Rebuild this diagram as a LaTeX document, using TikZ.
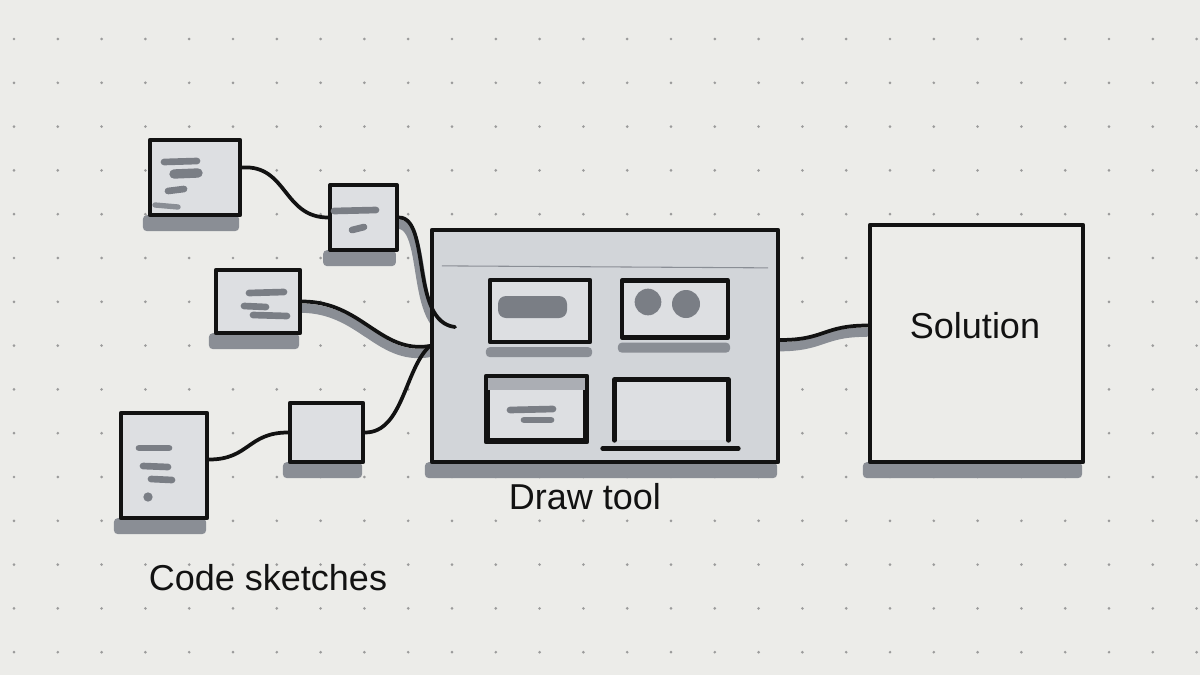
\documentclass[tikz,border=0pt]{standalone}
\usepackage{fontspec}
\setmainfont{Liberation Sans}
\usetikzlibrary{calc,backgrounds}

\definecolor{paper}{RGB}{236,236,233}
\definecolor{sheet}{RGB}{221,223,226}
\definecolor{toolgray}{RGB}{210,213,217}
\definecolor{marker}{RGB}{138,142,149}
\definecolor{blob}{RGB}{122,126,133}
\definecolor{ink}{RGB}{18,18,18}
\definecolor{dotgray}{RGB}{155,155,155}

\tikzset{every picture/.style={line width=0.75pt}}
\tikzset{
  pen/.style={draw=ink, line width=3.2pt, line cap=round, line join=round},
  sheetbox/.style={pen, fill=sheet, inner sep=0pt},
  wire/.style={draw=ink, line width=2.8pt, line cap=round},
  wireshade/.style={draw=marker, line width=7pt, line cap=round, transform canvas={shift={(-1pt,-5pt)}}},
  smear/.style={draw=blob, line width=5pt, line cap=round},
  handtext/.style={text=ink, font=\fontsize{27}{30}\selectfont, inner sep=0.75pt},
}

\begin{document}
\begin{tikzpicture}[x=0.75pt,y=0.75pt,yscale=-1,xscale=1]
\useasboundingbox (0,0) rectangle (1200,675);

%Code sketches
\node[sheetbox, minimum width=67.5pt, minimum height=56.25pt] (dA) at (195,177.5) {};
\node[sheetbox, minimum width=50pt, minimum height=48.75pt] (dB) at (363.5,217.5) {};
\node[sheetbox, minimum width=63pt, minimum height=47.25pt] (dC) at (258,301.5) {};
\node[sheetbox, minimum width=64.5pt, minimum height=78.75pt] (dD) at (164,465.5) {};
\node[sheetbox, minimum width=54.75pt, minimum height=44.25pt] (dE) at (326.5,432.5) {};

%smears on the sheets
\draw[smear] (164,162) -- (197,161);
\draw[smear, line width=7pt] (174,174) -- (198,173);
\draw[smear] (168,191) -- (184,189);
\draw[smear, draw=marker, line width=4pt] (155,205) -- (178,207);
\draw[smear] (334,211) -- (376,210);
\draw[smear] (352,230) -- (364,227);
\draw[smear] (249,293) -- (284,292);
\draw[smear] (244,306) -- (266,307);
\draw[smear] (253,315) -- (287,316);
\draw[smear] (139,448) -- (169,448);
\draw[smear] (143,466) -- (168,467);
\draw[smear] (151,479) -- (172,480);
\fill[blob] (148,497) circle (3.5pt);

%Draw tool
\node[pen, fill=toolgray, minimum width=259.5pt, minimum height=174pt] (dt) at (605,346) {};
\draw[marker, line width=0.8pt] ($(dt.north west)+(12,38)$) -- ($(dt.north east)+(-12,40)$);

\node[sheetbox, minimum width=75pt, minimum height=46.5pt] (p1) at (540,311) {};
\node[sheetbox, minimum width=79.5pt, minimum height=42.75pt] (p2) at (675,309) {};
\node[sheetbox, minimum width=72.75pt, minimum height=46.5pt] (p3) at (536.5,409) {};
\node[fill=sheet, inner sep=0pt, minimum width=84.75pt, minimum height=45pt] (p4) at (671.5,410) {};

\fill[blob, rounded corners=6pt] (498,296) rectangle (567,318);
\fill[blob] (648,302) circle (10pt);
\fill[blob] (686,304) circle (10.5pt);
\fill[marker!60!sheet] (p3.north west) rectangle ($(p3.north east)+(0,14)$);
\draw[pen] (p3.south west) rectangle (p3.north east);
\draw[smear] (510,410) -- (553,409);
\draw[smear] (524,420) -- (551,420);
\draw[pen] (p4.south west) -- (p4.north west) -- (p4.north east) -- (p4.south east);
\draw[pen] ($(p4.south west)+(-12,8)$) -- ($(p4.south east)+(10,8)$);
\foreach \n in {p1,p2}
  \fill[marker, rounded corners=3pt] ($(\n.south west)+(-2,3)$) rectangle ($(\n.south east)+(0,13)$);

%Solution
\node[pen, fill=paper, minimum width=159.75pt, minimum height=177.75pt] (sol) at (976.5,343.5) {};

% Text Node
\node[handtext] (soltxt) at (975,326) {Solution};
% Text Node
\node[handtext] (dtlabel) at (585,497) {Draw tool};
% Text Node
\node[handtext] (codelabel) at (268,578) {Code sketches};

%joins
\coordinate (tin) at (455,327);

%connectors
\draw[wire] ($(dA.east)+(0,-10)$) .. controls +(45,-3) and +(-45,0) .. (dB.west);
\draw[wire] (dB.east) .. controls +(32,0) and +(-45,-5) .. (tin);
\draw[wire] (dC.east) .. controls +(60,0) and +(-50,8) .. (dt.west);
\draw[wire] (dE.east) .. controls +(38,0) and +(-25,22) .. (dt.west);
\draw[wire] ($(dD.east)+(0,-6)$) .. controls +(40,0) and +(-40,0) .. (dE.west);
\draw[wire] ($(dt.east)+(0,-6)$) .. controls +(45,0) and +(-45,0) .. ($(sol.west)+(0,-18)$);

\begin{scope}[on background layer]
\fill[paper] (0,0) rectangle (1200,675);
\foreach \i in {0,...,27}
  \foreach \j in {0,...,14}
    \fill[dotgray] ({14+43.8*\i},{39+43.8*\j}) circle (1.1pt);
\foreach \n in {dA,dB,dC,dD,dE,dt,sol}
  \fill[marker, rounded corners=3pt] ($(\n.south west)+(-5,-2)$) rectangle ($(\n.south east)+(-3,14)$);
\draw[wireshade] (dB.east) .. controls +(32,0) and +(-45,-5) .. (tin);
\draw[wireshade] (dC.east) .. controls +(60,0) and +(-50,8) .. (dt.west);
\draw[wireshade] ($(dt.east)+(0,-6)$) .. controls +(45,0) and +(-45,0) .. ($(sol.west)+(0,-18)$);
\end{scope}
\end{tikzpicture}
\end{document}
